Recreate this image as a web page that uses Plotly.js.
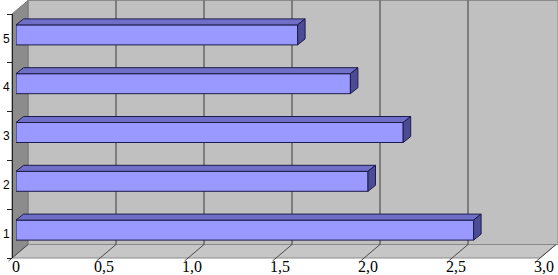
<!DOCTYPE html>
<html>
<head>
<meta charset="utf-8">
<script src="https://cdn.plot.ly/plotly-3.0.1.min.js"></script>
<style>html,body{margin:0;padding:0;background:#fff;}#chart{width:558px;height:275px;}</style>
</head>
<body>
<div id="chart"></div>
<script>
// ---- data ----
const categories = [1, 2, 3, 4, 5];
const categoryLabels = ['1', '2', '3', '4', '5'];
const values = [2.6, 2.0, 2.2, 1.9, 1.6];
const tickVals = [0, 0.5, 1.0, 1.5, 2.0, 2.5, 3.0];
const tickLabels = ['0', '0,5', '1,0', '1,5', '2,0', '2,5', '3,0'];

// ---- geometry (pixels) ----
const W = 558, H = 275;
const unitPx = 176;
const frontX0 = 12;
const frontTop = 14, frontBottom = 258;
const depth = {x: 16, y: -13.5};
const barShift = {x: 4, y: -3.5};
const barDepth = {x: 7.5, y: -6};
const bandPx = (frontBottom - frontTop) / categories.length;

const px = x => x / W;
const py = y => 1 - y / H;
const fx = v => frontX0 + unitPx * v;

const barX0 = frontX0 + barShift.x;
const xDom = [px(barX0), px(barX0 + unitPx * 3)];
const yDom = [py(frontBottom + barShift.y), py(frontTop + barShift.y)];

const barWidth = 20 / bandPx;
const ddx = barDepth.x / unitPx;
const ddy = -barDepth.y / bandPx;
const hw = barWidth / 2;

const topX = [], topY = [], sideX = [], sideY = [];
values.forEach((v, i) => {
  const c = categories[i];
  topX.push(0, v, v + ddx, ddx, 0, null);
  topY.push(c + hw, c + hw, c + hw + ddy, c + hw + ddy, c + hw, null);
  sideX.push(v, v + ddx, v + ddx, v, v, null);
  sideY.push(c - hw, c - hw + ddy, c + hw + ddy, c + hw, c - hw, null);
});

const outline = '#1c1c4a';

const traces = [
  {type: 'bar', orientation: 'h', x: values, y: categories, xaxis: 'x', yaxis: 'y',
   width: barWidth, marker: {color: '#9999ff', line: {color: outline, width: 1}}, hoverinfo: 'skip'},
  {type: 'scatter', mode: 'lines', x: topX, y: topY, xaxis: 'x', yaxis: 'y',
   fill: 'toself', fillcolor: '#6f6fc8', line: {color: outline, width: 1}, hoverinfo: 'skip'},
  {type: 'scatter', mode: 'lines', x: sideX, y: sideY, xaxis: 'x', yaxis: 'y',
   fill: 'toself', fillcolor: '#4c4c94', line: {color: outline, width: 1}, hoverinfo: 'skip'},
  {type: 'scatter', mode: 'markers', x: [0, 0, 0, 0, 0], y: categoryLabels, xaxis: 'x2', yaxis: 'y2',
   marker: {opacity: 0}, hoverinfo: 'skip'}
];

const shapes = [];
const path = pts => 'M' + pts.map(p => px(p[0]) + ',' + py(p[1])).join('L') + 'Z';
const backLeft = fx(0) + depth.x, backBottom = frontBottom + depth.y, backTop = frontTop + depth.y;
shapes.push({type: 'path', xref: 'paper', yref: 'paper', layer: 'below',
  path: path([[backLeft, backTop], [W, backTop], [W, backBottom], [backLeft, backBottom]]),
  fillcolor: '#c0c0c0', line: {color: '#8a8a8a', width: 1}});
shapes.push({type: 'path', xref: 'paper', yref: 'paper', layer: 'below',
  path: path([[fx(0), frontTop], [backLeft, backTop], [backLeft, backBottom], [fx(0), frontBottom]]),
  fillcolor: '#8c8c8c', line: {color: '#777777', width: 1}});
shapes.push({type: 'path', xref: 'paper', yref: 'paper', layer: 'below',
  path: path([[fx(0), frontBottom], [backLeft, backBottom], [fx(3) + depth.x, backBottom], [fx(3), frontBottom]]),
  fillcolor: '#c6c6c6', line: {color: '#8a8a8a', width: 1}});
tickVals.forEach(v => {
  const bx = fx(v) + depth.x;
  if (v > 0 && v < 3) {
    shapes.push({type: 'line', xref: 'paper', yref: 'paper', layer: 'below',
      x0: px(bx), x1: px(bx), y0: py(backBottom), y1: py(backTop),
      line: {color: '#3a3a3a', width: 1}});
  }
  shapes.push({type: 'line', xref: 'paper', yref: 'paper', layer: 'below',
    x0: px(fx(v) - 3.5), y0: py(frontBottom + 3), x1: px(bx), y1: py(backBottom),
    line: {color: '#4a4a4a', width: 1}});
});

const layout = {
  width: W, height: H,
  font: {family: 'Liberation Serif', size: 16, color: '#000'},
  margin: {l: 0, r: 0, t: 0, b: 0, pad: 0},
  paper_bgcolor: '#ffffff', plot_bgcolor: 'rgba(0,0,0,0)',
  showlegend: false,
  barmode: 'overlay',
  xaxis: {domain: xDom, range: [0, 3], anchor: 'y', showgrid: false, zeroline: false, showline: false,
    tickmode: 'array', tickvals: tickVals, ticktext: tickLabels, ticks: '', ticklabelstandoff: 0,
    tickfont: {family: 'Liberation Serif', size: 16, color: '#000000'}, fixedrange: true},
  yaxis: {domain: yDom, range: [0.5, 5.5], anchor: 'x', visible: false, fixedrange: true},
  xaxis2: {domain: [px(fx(0)), px(fx(3))], range: [0, 3], anchor: 'y2', visible: false},
  yaxis2: {domain: [py(frontBottom), py(frontTop)], type: 'category', categoryorder: 'array',
    categoryarray: categoryLabels, range: [-0.5, 4.5], anchor: 'free', position: px(fx(0)),
    showgrid: false, zeroline: false, showline: true, linecolor: '#222', linewidth: 1,
    ticks: 'outside', ticklen: 5, tickcolor: '#222', tickson: 'boundaries',
    tickfont: {family: 'Liberation Sans', size: 12, color: '#000'}},
  shapes: shapes
};

Plotly.newPlot('chart', traces, layout, {staticPlot: true, displayModeBar: false});
</script>
</body>
</html>
